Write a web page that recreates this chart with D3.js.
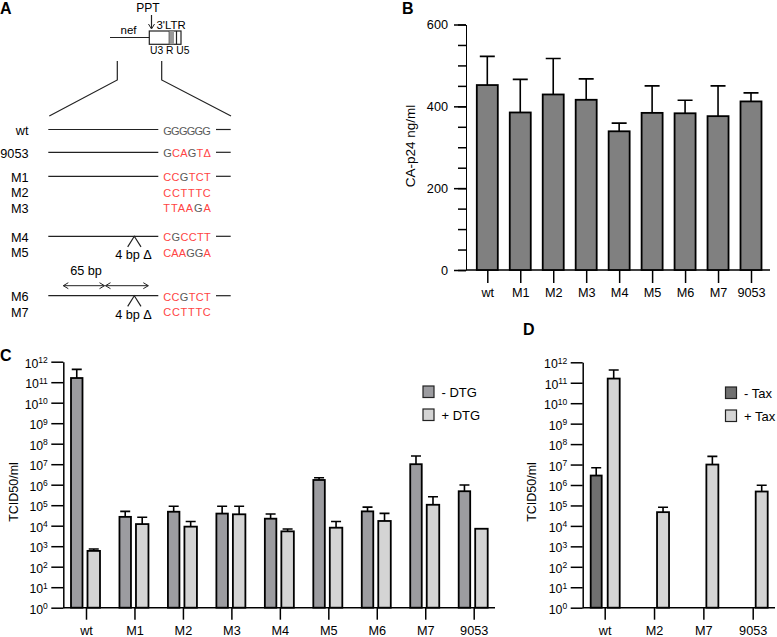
<!DOCTYPE html>
<html><head><meta charset="utf-8">
<script src="https://cdn.jsdelivr.net/npm/d3@7/dist/d3.min.js"></script>
<style>body{margin:0;background:#fff}svg{display:block;font-family:"Liberation Sans",Arial,sans-serif}</style>
</head><body>
<script>
// ---------- DATA ----------
const catsB = ["wt","M1","M2","M3","M4","M5","M6","M7","9053"];
const p24Mean = [452,385,429,416,339,384,383,376,412];
const p24Upper = [522,466,517,467,359,450,415,450,433];
const ticksBMajor = [0,200,400,600];

const catsC = ["wt","M1","M2","M3","M4","M5","M6","M7","9053"];
const dtgMinus = [1.6e11,2.7e4,4.8e4,3.9e4,2.2e4,1.7e6,5.0e4,1.0e7,4.8e5];
const dtgMinusUpper = [4.2e11,5.0e4,8.9e4,8.9e4,3.7e4,2.2e6,8.1e4,2.5e7,9.7e5];
const dtgPlus = [590,1.2e4,9.0e3,3.6e4,5.3e3,8.0e3,1.7e4,1.05e5,7.1e3];
const dtgPlusUpper = [730,2.6e4,1.6e4,8.9e4,6.9e3,1.6e4,4.0e4,2.6e5,null];

const catsD = ["wt","M2","M7","9053"];
const taxMinus = [2.9e6,null,null,null];
const taxMinusUpper = [7.0e6,null,null,null];
const taxPlus = [1.6e11,4.7e4,1.0e7,4.8e5];
const taxPlusUpper = [4.2e11,8.1e4,2.5e7,9.7e5];

const logExponents = [0,1,2,3,4,5,6,7,8,9,10,11,12];
const legendC = ["- DTG","+ DTG"];
const legendD = ["- Tax","+ Tax"];

const seqLabels = ["wt","9053","M1","M2","M3","M4","M5","M6","M7"];
const seqs = ["GGGGGG","GCAGT\u0394","CCGTCT","CCTTTC","TTAAGA","CGCCTT","CAAGGA","CCGTCT","CCTTTC"];

// ---------- SETUP ----------
const W=777,H=637;
const svg=d3.select("body").append("svg").attr("width",W).attr("height",H);
svg.append("rect").attr("width",W).attr("height",H).attr("fill","#fff");
const RED="#ff4444", GREYT="#595959";
const cB="#808080", cCd="#9c9ca0", cDd="#707070", cL="#d4d4d4";
const FS=12.7;

function panelLabel(t,x,y){svg.append("text").attr("x",x).attr("y",y).attr("font-size",16).attr("font-weight","bold").text(t);}
panelLabel("A",0,14);panelLabel("B",402,14);panelLabel("C",0,361);panelLabel("D",523,335);

// ---------- PANEL A ----------
const A=svg.append("g").attr("stroke","#222").attr("fill","none").attr("stroke-width",1.2);
svg.append("text").attr("x",148).attr("y",12).attr("text-anchor","middle").attr("font-size",12).text("PPT");
A.append("line").attr("x1",151.5).attr("x2",151.5).attr("y1",15).attr("y2",28);
A.append("path").attr("d","M148.5,24 L151.5,29 L154.5,24").attr("stroke-width",1);
svg.append("text").attr("x",156.5).attr("y",29).attr("font-size",11.4).text("3'LTR");
svg.append("text").attr("x",120.5).attr("y",34).attr("font-size",11.5).text("nef");
A.append("line").attr("x1",110).attr("x2",149.3).attr("y1",37.5).attr("y2",37.5);
svg.append("rect").attr("x",169.3).attr("y",31).attr("width",4.7).attr("height",13.3).attr("fill","#999");
A.append("rect").attr("x",149.3).attr("y",31).attr("width",31.7).attr("height",13.3);
A.append("line").attr("x1",176.5).attr("x2",176.5).attr("y1",31).attr("y2",44.3);
A.append("line").attr("x1",169.3).attr("x2",169.3).attr("y1",31).attr("y2",44.3);
svg.append("text").attr("x",150).attr("y",54).attr("font-size",10.3).text("U3 R U5");
A.append("path").attr("d","M117.3,61 L117.3,80 L49.3,116");
A.append("path").attr("d","M161.7,61 L161.7,80 L231,116");

const rowY=[130.5,153.3,177.3,192.7,208.3,237.3,252.7,296.7,312];
const rowLine=[true,true,true,false,false,true,false,true,false];
seqLabels.forEach((l,i)=>{
  const y=rowY[i];
  svg.append("text").attr("x",28.5).attr("y",y+4.5).attr("text-anchor","end").attr("font-size",FS).text(l);
  if(rowLine[i]){
    A.append("line").attr("x1",48.3).attr("x2",158.3).attr("y1",y-1).attr("y2",y-1);
    A.append("line").attr("x1",216).attr("x2",230.7).attr("y1",y-1).attr("y2",y-1);
  }
  const t=svg.append("text").attr("x",163.3).attr("y",y+4).attr("font-size",11)
    .attr("textLength",47.5).attr("lengthAdjust","spacing");
  seqs[i].split("").forEach(ch=>{t.append("tspan").attr("fill",ch==="G"?GREYT:RED).text(ch);});
});
// deletions
[236.3,295.8].forEach((y,k)=>{
  A.append("path").attr("d",`M127.7,${y+10.6} L134.3,${y} L141,${y+10.6}`);
  svg.append("text").attr("x",133.5).attr("y",y+22.8).attr("text-anchor","middle").attr("font-size",FS).text("4 bp \u0394");
});
svg.append("text").attr("x",86).attr("y",275).attr("text-anchor","middle").attr("font-size",FS).text("65 bp");
function dblArrow(x1,x2,y){
  A.append("line").attr("x1",x1).attr("x2",x2).attr("y1",y).attr("y2",y).attr("stroke-width",1);
  A.append("path").attr("d",`M${x1+5},${y-3} L${x1},${y} L${x1+5},${y+3}`).attr("stroke-width",1);
  A.append("path").attr("d",`M${x2-5},${y-3} L${x2},${y} L${x2-5},${y+3}`).attr("stroke-width",1);
}
dblArrow(63.3,104.5,285.7);dblArrow(105.5,148.3,285.7);

// ---------- PANEL B ----------
const yB=d3.scaleLinear().domain([0,600]).range([270,24.5]);
const xB=d3.scalePoint().domain(catsB).range([487.3,751]);
const bw=21;
const gB=svg.append("g");
gB.append("g").attr("transform","translate(466,0)")
  .call(d3.axisLeft(yB).tickValues(d3.range(0,601,50)).tickSize(8).tickFormat("").tickSizeOuter(0))
  .call(g=>g.select(".domain").remove());
gB.append("g").attr("transform","translate(466,0)")
  .call(d3.axisLeft(yB).tickValues(ticksBMajor).tickSize(12).tickPadding(6).tickSizeOuter(0))
  .call(g=>g.selectAll("text").attr("font-size",FS).attr("font-family","Liberation Sans,Arial"));
gB.append("g").attr("transform","translate(0,270)")
  .call(d3.axisBottom(xB).tickSize(13).tickPadding(5).tickSizeOuter(0))
  .call(g=>g.select(".domain").remove())
  .call(g=>g.selectAll("text").attr("font-size",FS).attr("font-family","Liberation Sans,Arial"));
gB.selectAll(".tick line").attr("stroke-width",1.5);
gB.append("line").attr("x1",466).attr("x2",770).attr("y1",yB(0)).attr("y2",yB(0)).attr("stroke","#000").attr("stroke-width",1.5);
gB.selectAll(".eb").data(catsB).join("path")
  .attr("d",(d,i)=>`M${xB(d)},${yB(p24Mean[i])} V${yB(p24Upper[i])} M${xB(d)-7.5},${yB(p24Upper[i])} H${xB(d)+7.5}`)
  .attr("stroke","#000").attr("stroke-width",1.6).attr("fill","none");
gB.selectAll(".bar").data(catsB).join("rect")
  .attr("x",d=>xB(d)-bw/2).attr("width",bw)
  .attr("y",(d,i)=>yB(p24Mean[i])).attr("height",(d,i)=>yB(0)-yB(p24Mean[i]))
  .attr("fill",cB).attr("stroke","#000").attr("stroke-width",1.8);
svg.append("text").attr("transform","translate(415,146) rotate(-90)").attr("text-anchor","middle").attr("font-size",13.5).text("CA-p24 ng/ml");

// ---------- LOG PANELS ----------
function logPanel(opt){
  const g=svg.append("g");
  const y=d3.scaleLog().domain([1,1e12]).range([607.7,opt.top]);
  const x=d3.scalePoint().domain(opt.cats).range(opt.xr);
  opt.series.forEach(s=>{
    opt.cats.forEach((c,i)=>{
      if(s.vals[i]==null||s.up[i]==null) return;
      const cx=x(c)+s.off+s.w/2;
      g.append("path").attr("d",`M${cx},${y(s.vals[i])} V${y(s.up[i])} M${cx-5},${y(s.up[i])} H${cx+5}`)
        .attr("stroke","#000").attr("stroke-width",1.6).attr("fill","none");
    });
    g.selectAll(null).data(opt.cats.filter((c,i)=>s.vals[i]!=null)).join("rect")
      .attr("x",c=>x(c)+s.off).attr("width",s.w)
      .attr("y",c=>y(s.vals[opt.cats.indexOf(c)])).attr("height",c=>y(1)-y(s.vals[opt.cats.indexOf(c)]))
      .attr("fill",s.color).attr("stroke","#000").attr("stroke-width",1.8);
  });
  const ay=g.append("g").attr("transform",`translate(${opt.ax},0)`)
    .call(d3.axisLeft(y).tickValues(logExponents.map(e=>Math.pow(10,e))).tickSize(12).tickPadding(3.5).tickSizeOuter(0))
    .call(a=>a.selectAll("text").attr("font-size",12.3).attr("font-family","Liberation Sans,Arial").each(function(d){
      const e=Math.round(Math.log10(d));
      const t=d3.select(this).text("10").attr("dy","0.45em");
      t.append("tspan").attr("dy","-0.55em").attr("font-size",8.5).text(e);
    }));
  ay.select(".domain").attr("stroke-width",1.5);
  ay.selectAll(".tick line").attr("stroke-width",1.5);
  const axb=g.append("g").attr("transform","translate(0,607.7)")
    .call(d3.axisBottom(x).tickSize(12).tickPadding(6.3).tickSizeOuter(0))
    .call(a=>a.select(".domain").remove())
    .call(a=>a.selectAll("text").attr("font-size",FS).attr("font-family","Liberation Sans,Arial"));
  axb.selectAll(".tick line").attr("stroke-width",1.5);
  g.append("line").attr("x1",opt.ax).attr("x2",opt.xEnd).attr("y1",607.7).attr("y2",607.7).attr("stroke","#000").attr("stroke-width",1.5);
  svg.append("text").attr("transform",`translate(${opt.labX},492) rotate(-90)`).attr("text-anchor","middle").attr("font-size",12.5).text("TCID50/ml");
  opt.legend.forEach((l,i)=>{
    svg.append("rect").attr("x",opt.legX).attr("y",opt.legY+i*23).attr("width",11).attr("height",11.5)
      .attr("fill",opt.series[i].color).attr("stroke","#222").attr("stroke-width",1.2);
    svg.append("text").attr("x",opt.legX+18.5).attr("y",opt.legY+i*23+11).attr("font-size",13).text(l);
  });
}
logPanel({cats:catsC,top:361.7,xr:[86,473.7],ax:63.3,xEnd:495,labX:17.5,legX:423,legY:386,legend:legendC,
  series:[{vals:dtgMinus,up:dtgMinusUpper,color:cCd,off:-15,w:11.5},{vals:dtgPlus,up:dtgPlusUpper,color:cL,off:1.5,w:12.5}]});
logPanel({cats:catsD,top:362.3,xr:[604.7,752.7],ax:582.7,xEnd:775,labX:536,legX:725.5,legY:387,legend:legendD,
  series:[{vals:taxMinus,up:taxMinusUpper,color:cDd,off:-14,w:11},{vals:taxPlus,up:taxPlusUpper,color:cL,off:3,w:12}]});
</script>
</body></html>
